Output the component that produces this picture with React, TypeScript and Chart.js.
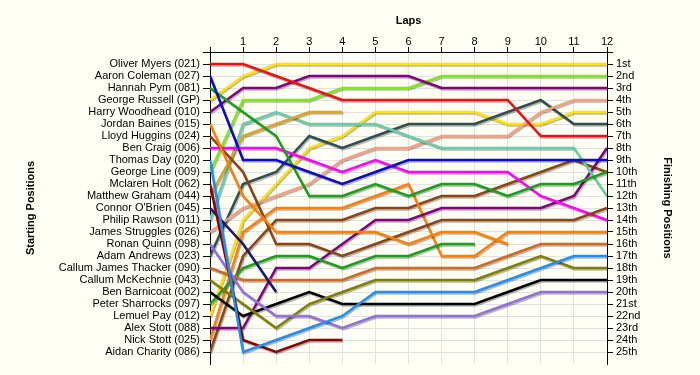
import React, { useEffect, useRef } from 'react';
import { Chart, registerables } from 'chart.js';

Chart.register(...registerables);

// ---------- data ----------
const laps = [0, 1, 2, 3, 4, 5, 6, 7, 8, 9, 10, 11, 12];
const lapLabels = ['', '1', '2', '3', '4', '5', '6', '7', '8', '9', '10', '11', '12'];

const startNames = [
  'Oliver Myers (021)',
  'Aaron Coleman (027)',
  'Hannah Pym (081)',
  'George Russell (GP)',
  'Harry Woodhead (010)',
  'Jordan Baines (015)',
  'Lloyd Huggins (024)',
  'Ben Craig (006)',
  'Thomas Day (020)',
  'George Line (009)',
  'Mclaren Holt (062)',
  'Matthew Graham (044)',
  "Connor O'Brien (045)",
  'Philip Rawson (011)',
  'James Struggles (026)',
  'Ronan Quinn (098)',
  'Adam Andrews (023)',
  'Callum James Thacker (090)',
  'Callum McKechnie (043)',
  'Ben Barnicoat (002)',
  'Peter Sharrocks (097)',
  'Lemuel Pay (012)',
  'Alex Stott (088)',
  'Nick Stott (025)',
  'Aidan Charity (086)',
];

const finishLabels = [
  '1st', '2nd', '3rd', '4th', '5th', '6th', '7th', '8th', '9th', '10th',
  '11th', '12th', '13th', '14th', '15th', '16th', '17th', '18th', '19th', '20th',
  '21st', '22nd', '23rd', '24th', '25th',
];

// position of each driver at the end of each lap (lap 0 = grid)
const posOliverMyers = [1, 1, 2, 3, 4, 4, 4, 4, 4, 4, 7, 7, 7];
const posAaronColeman = [2, 9, 9, 10, 11, 10, 9, 9, 9, 9, 9, 9, 9];
const posHannahPym = [3, 5, 7, 12, 12, 11, 12, 11, 11, 12, 11, 11, 10];
const posGeorgeRussell = [4, 2, 1, 1, 1, 1, 1, 1, 1, 1, 1, 1, 1];
const posHarryWoodhead = [5, 3, 3, 2, 2, 2, 2, 3, 3, 3, 3, 3, 3];
const posJordanBaines = [6, 12, 15, 15, 15, 15, 16, 15, 15, 16];
const posLloydHuggins = [7, 10, 16, 16, 17, 16, 15, 14, 14, 14, 14, 14, 13];
const posBenCraig = [8, 8, 8, 9, 10, 9, 10, 10, 10, 10, 12, 13, 14];
const posThomasDay = [9, 25, 24, 23, 22, 20, 20, 20, 20, 19, 18, 17, 17];
const posGeorgeLine = [10, 4, 4, 4, 3, 3, 3, 2, 2, 2, 2, 2, 2];
const posMclarenHolt = [11, 24, 25, 24, 24];
const posMatthewGraham = [12, 7, 6, 5, 5];
const posConnorOBrien = [13, 16, 20];
const posPhilipRawson = [14, 6, 5, 6, 6, 6, 7, 8, 8, 8, 8, 8, 12];
const posJamesStruggles = [15, 13, 12, 11, 9, 8, 8, 7, 7, 7, 5, 4, 4];
const posRonanQuinn = [16, 20, 22, 22, 23, 22, 22, 22, 22, 21, 20, 20, 20];
const posAdamAndrews = [17, 11, 10, 7, 8, 7, 6, 6, 6, 5, 4, 6, 6];
const posCallumThacker = [18, 19, 19, 19, 19, 18, 18, 18, 18, 17, 16, 16, 16];
const posCallumMcKechnie = [19, 21, 23, 21, 20, 19, 19, 19, 19, 18, 17, 18, 18];
const posBenBarnicoat = [20, 22, 21, 20, 21, 21, 21, 21, 21, 20, 19, 19, 19];
const posPeterSharrocks = [21, 18, 17, 17, 18, 17, 17, 16, 16];
const posLemuelPay = [22, 14, 11, 8, 7, 5, 5, 5, 5, 6, 6, 5, 5];
const posAlexStott = [23, 23, 18, 18, 16, 14, 14, 13, 13, 13, 13, 12, 8];
const posNickStott = [24, 15, 13, 13, 13, 12, 11, 17, 17, 15, 15, 15, 15];
const posAidanCharity = [25, 17, 14, 14, 14, 13, 13, 12, 12, 11, 10, 9, 10];

const driverPositions = [
  posOliverMyers, posAaronColeman, posHannahPym, posGeorgeRussell, posHarryWoodhead,
  posJordanBaines, posLloydHuggins, posBenCraig, posThomasDay, posGeorgeLine,
  posMclarenHolt, posMatthewGraham, posConnorOBrien, posPhilipRawson, posJamesStruggles,
  posRonanQuinn, posAdamAndrews, posCallumThacker, posCallumMcKechnie, posBenBarnicoat,
  posPeterSharrocks, posLemuelPay, posAlexStott, posNickStott, posAidanCharity,
];

// ---------- styles ----------
const lineColors = [
  '#EE1111', // Oliver Myers
  '#0A0ACC', // Aaron Coleman
  '#1A9F1A', // Hannah Pym
  '#FFE400', // George Russell
  '#800080', // Harry Woodhead
  '#FF8000', // Jordan Baines
  '#8B4513', // Lloyd Huggins
  '#FF00FF', // Ben Craig
  '#2090F0', // Thomas Day
  '#7FE817', // George Line
  '#8B0000', // Mclaren Holt
  '#DAA520', // Matthew Graham
  '#191970', // Connor O'Brien
  '#66CDAA', // Philip Rawson
  '#F5A080', // James Struggles
  '#9370DB', // Ronan Quinn
  '#2F4F4F', // Adam Andrews
  '#D2691E', // Callum James Thacker
  '#808000', // Callum McKechnie
  '#000000', // Ben Barnicoat
  '#1A9F1A', // Peter Sharrocks
  '#FFE400', // Lemuel Pay
  '#800080', // Alex Stott
  '#FF8000', // Nick Stott
  '#8B4513', // Aidan Charity
];

const BG = '#FFFFF5';
const GRID = '#E2E2E2';
const FONT = 'Arial, "Liberation Sans", sans-serif';

const positionTicks = Array.from({ length: 26 }, (_, i) => i); // 0..25

const shadowPlugin = {
  id: 'lineShadow',
  beforeDatasetsDraw(chart: any) {
    const ctx = chart.ctx;
    ctx.save();
    ctx.shadowColor = 'rgba(0,0,0,0.28)';
    ctx.shadowOffsetX = 1;
    ctx.shadowOffsetY = 1.5;
    ctx.shadowBlur = 0.5;
  },
  afterDatasetsDraw(chart: any) {
    chart.ctx.restore();
  },
};

export default function App() {
  const canvasRef = useRef<HTMLCanvasElement | null>(null);

  useEffect(() => {
    document.body.style.margin = '0';
    document.body.style.background = BG;
    const canvas = canvasRef.current;
    if (!canvas) return;

    const datasets = driverPositions.map((positions, i) => ({
      label: startNames[i],
      data: positions.map((p, lap) => ({ x: laps[lap], y: p })),
      borderColor: lineColors[i],
      backgroundColor: lineColors[i],
      borderWidth: 2.5,
      pointRadius: 0,
      pointHoverRadius: 0,
      tension: 0,
      fill: false,
      yAxisID: 'y',
      xAxisID: 'x',
    }));

    const tickFont = { family: FONT, size: 11, lineHeight: 1 };
    const titleFont = { family: FONT, size: 11, weight: 'bold' as const, lineHeight: 1.2 };

    const chart = new Chart(canvas, {
      type: 'line',
      data: { datasets },
      options: {
        animation: false,
        responsive: false,
        maintainAspectRatio: false,
        layout: { padding: { left: 0, right: 0, top: 0, bottom: 11 } },
        plugins: {
          legend: { display: false },
          tooltip: { enabled: false },
        },
        events: [],
        scales: {
          x: {
            type: 'linear',
            position: 'top',
            min: 0,
            max: 12,
            afterBuildTicks: (s: any) => {
              s.ticks = laps.map((v) => ({ value: v }));
            },
            afterFit: (s: any) => {
              s.height = 52;
            },
            ticks: {
              autoSkip: false,
              maxRotation: 0,
              padding: 0,
              color: '#000',
              font: tickFont,
              callback: (v: any) => lapLabels[Number(v)] ?? '',
            },
            grid: { color: GRID, tickColor: '#000', tickLength: 5, lineWidth: 1 },
            border: { color: '#000', width: 1 },
            title: {
              display: true,
              text: 'Laps',
              color: '#000',
              font: titleFont,
              padding: { top: 14, bottom: 0 },
            },
          },
          y: {
            type: 'linear',
            position: 'left',
            reverse: true,
            min: 0,
            max: 26,
            afterBuildTicks: (s: any) => {
              s.ticks = positionTicks.map((v) => ({ value: v }));
            },
            afterFit: (s: any) => {
              s.width = 210;
            },
            ticks: {
              autoSkip: false,
              padding: 3,
              color: '#000',
              font: tickFont,
              callback: (v: any) => (Number(v) >= 1 ? startNames[Number(v) - 1] : ''),
            },
            grid: { color: GRID, tickColor: '#000', tickLength: 7, lineWidth: 1 },
            border: { color: '#000', width: 1 },
            title: {
              display: true,
              text: 'Starting Positions',
              color: '#000',
              font: titleFont,
              padding: { top: 24, bottom: 0 },
            },
          },
          y2: {
            type: 'linear',
            position: 'right',
            reverse: true,
            min: 0,
            max: 26,
            afterBuildTicks: (s: any) => {
              s.ticks = positionTicks.map((v) => ({ value: v }));
            },
            afterFit: (s: any) => {
              s.width = 93;
            },
            ticks: {
              autoSkip: false,
              padding: 3,
              color: '#000',
              font: tickFont,
              callback: (v: any) => (Number(v) >= 1 ? finishLabels[Number(v) - 1] : ''),
            },
            grid: { drawOnChartArea: false, tickColor: '#000', tickLength: 6, lineWidth: 1 },
            border: { color: '#000', width: 1 },
            title: {
              display: true,
              text: 'Finishing Positions',
              color: '#000',
              font: titleFont,
              padding: { top: 26, bottom: 0 },
            },
          },
        },
      } as any,
      plugins: [shadowPlugin],
    });

    return () => {
      chart.destroy();
    };
  }, []);

  return (
    <div style={{ position: 'absolute', left: 0, top: 0, width: 700, height: 375, background: BG }}>
      <canvas ref={canvasRef} width={700} height={375} style={{ display: 'block', width: 700, height: 375 }} />
    </div>
  );
}
